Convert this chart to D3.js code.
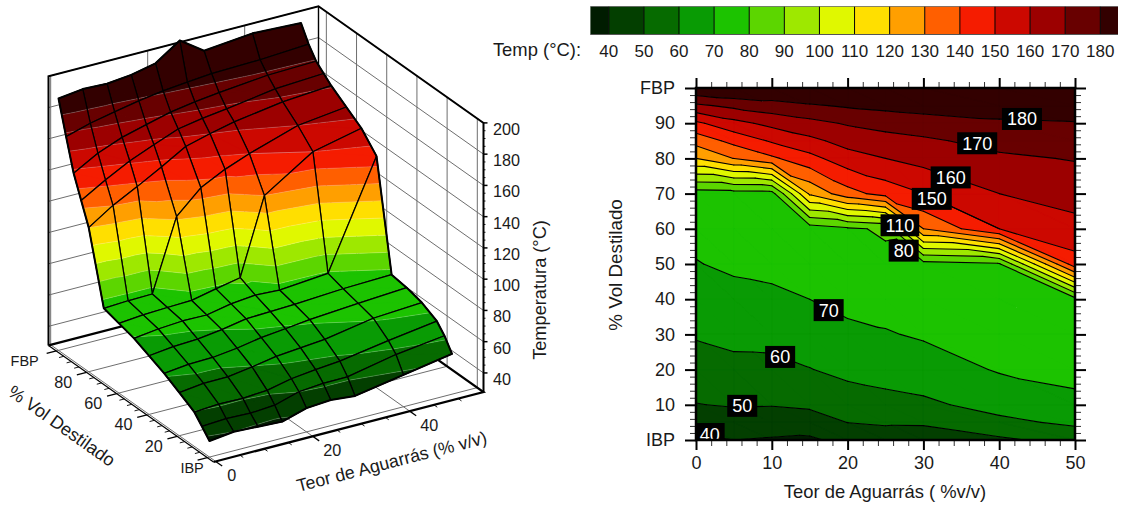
<!DOCTYPE html>
<html><head><meta charset="utf-8">
<script src="https://cdn.jsdelivr.net/npm/d3@7"></script>
<style>
html,body{margin:0;padding:0;background:#fff}
text{font-family:"Liberation Sans",Arial,sans-serif;fill:#1a1a1a}
</style></head><body><svg id="c" width="1125" height="506"></svg>
<script>
// ---- data: temperature (°C) for each Teor de Aguarrás column, one value per % vol row ----
const teorValues = [0, 5, 10, 15, 20, 25, 30, 40, 50];
const volValues  = [0, 5, 10, 20, 30, 40, 50, 60, 70, 80, 85, 90, 95, 100];
const teor0  = [38.1, 44.0, 49.7, 55.4, 60.9, 65.3, 69.6, 72.4, 75.2, 120.0, 133.9, 148.0, 168.0, 189.0];
const teor5  = [40.0, 44.9, 50.8, 57.3, 62.6, 67.1, 71.6, 73.8, 76.0, 130.2, 143.1, 156.8, 172.5, 191.0];
const teor10 = [39.2, 44.4, 50.5, 57.4, 63.0, 67.9, 72.7, 74.5, 76.3, 138.2, 151.2, 162.9, 175.8, 190.4];
const teor15 = [38.4, 45.5, 51.6, 59.7, 64.9, 70.0, 72.5, 75.0, 121.8, 146.7, 157.5, 167.0, 178.8, 192.0];
const teor20 = [43.0, 50.1, 55.0, 62.5, 67.7, 72.8, 75.6, 78.4, 136.2, 155.8, 163.6, 171.0, 181.2, 195.4];
const teor25 = [44.2, 51.4, 56.8, 63.9, 69.3, 73.5, 77.2, 81.5, 144.0, 160.0, 166.4, 173.5, 182.8, 206.0];
const teor30 = [42.8, 51.6, 58.2, 65.3, 71.1, 74.0, 76.4, 130.0, 150.0, 163.5, 168.4, 175.4, 184.2, 195.4];
const teor40 = [48.2, 57.8, 63.3, 70.8, 73.5, 76.0, 79.0, 150.0, 160.0, 168.3, 173.2, 178.5, 185.0, 198.5];
const teor50 = [53.6, 61.8, 67.7, 72.8, 75.5, 77.0, 146.0, 157.0, 163.8, 170.6, 175.0, 179.4, 187.0, 197.0];
const tempColumns = [teor0, teor5, teor10, teor15, teor20, teor25, teor30, teor40, teor50];

const levels = [40,50,60,70,80,90,100,110,120,130,140,150,160,170,180];
const bandColors = ["#001c00","#033f00","#066b00","#099b04","#1cc300","#5cd600","#9ee800","#e0f800","#ffdf00",
  "#ff9f00","#ff5f00","#f51c00","#cc0800","#9c0000","#680000","#330000"];
const contourLabels = [180,170,160,150,110,80,70,60,50,40];
const labelTeor = [43,37.1,33.6,31.1,26.9,27.4,17.5,11.1,6.1,1.8];
const labelVol  = [91.2,84.3,74.6,68.5,61,53.8,36.9,23.6,9.7,1.7];

const volTickFmt = v => v===0 ? "IBP" : v===100 ? "FBP" : String(v);
const svg = d3.select("#c");

// ---- geometry helpers working on the data grid ----
const lowHigh = i => [i===0?-Infinity:levels[i-1], i===levels.length?Infinity:levels[i]];
const mix = (a,b,t)=>({x:a.x+(b.x-a.x)*t,y:a.y+(b.y-a.y)*t,z:a.z+(b.z-a.z)*t});
function clip(poly,level,keepAbove){
  const out=[];
  poly.forEach((p,i)=>{
    const q=poly[(i+1)%poly.length];
    const pi=keepAbove?p.z>=level:p.z<=level, qi=keepAbove?q.z>=level:q.z<=level;
    if(pi) out.push(p);
    if(pi!==qi) out.push(mix(p,q,(level-p.z)/(q.z-p.z)));
  });
  return out;
}
function vertex(i,j){return {x:teorValues[i],y:volValues[j],z:tempColumns[i][j]};}
function cellTriangles(i,j){
  const a=vertex(i,j),b=vertex(i+1,j),c=vertex(i+1,j+1),d=vertex(i,j+1);
  return [[a,b,d],[b,c,d]];
}
function bandPaths(tris,lineGen){
  return bandColors.map((col,k)=>{
    const [lo,hi]=lowHigh(k);
    let d="";
    tris.forEach(tri=>{
      let p=tri;
      if(isFinite(lo)) p=clip(p,lo,true);
      if(p.length&&isFinite(hi)) p=clip(p,hi,false);
      if(p.length>2) d+=lineGen(p)+"Z";
    });
    return {col,d};
  }).filter(b=>b.d);
}
function segmentsOf(tri){
  const res=[];
  levels.forEach(l=>{
    const pts=[];
    tri.forEach((p,i)=>{
      const q=tri[(i+1)%3];
      if((p.z-l)*(q.z-l)<0) pts.push(mix(p,q,(l-p.z)/(q.z-p.z)));
      else if(p.z===l) pts.push(p);
    });
    if(pts.length>=2) res.push(pts.slice(0,2));
  });
  return res;
}
const cells=[];
for(let j=volValues.length-2;j>=0;j--) for(let i=teorValues.length-2;i>=0;i--) cells.push([i,j]);

// ---- 3D panel: oblique projection through scales ----
const xDomain=[-0.45,55.22], yDomain=[-4.1,105.2], zDomain=[27.8,200];
const sxFromX=d3.scaleLinear().domain(xDomain).range([0,270]);
const syFromX=d3.scaleLinear().domain(xDomain).range([0,-70]);
const sxFromY=d3.scaleLinear().domain(yDomain).range([0,-165]);
const syFromY=d3.scaleLinear().domain(yDomain).range([0,-116.6]);
const syFromZ=d3.scaleLinear().domain(zDomain).range([0,-269.1]);
const ox=213.5, oy=462;
const P=(x,y,z)=>[ox+sxFromX(x)+sxFromY(y), oy+syFromX(x)+syFromY(y)+syFromZ(z)];
const line3=d3.line().x(d=>P(d.x,d.y,d.z)[0]).y(d=>P(d.x,d.y,d.z)[1]);
const pt=(x,y,z)=>({x,y,z});
const [x0,x1]=xDomain,[y0,y1]=yDomain,[z0,z1]=zDomain;

const g3=svg.append("g");
const zGrid=d3.range(40,201,20), xGrid=[0,20,40], yGrid=[0,20,40,60,80,100];
const gridG=g3.append("g").attr("fill","none").attr("stroke","#6e6e6e").attr("stroke-width",1);
zGrid.forEach(z=>gridG.append("path").attr("d",line3([pt(x0,y1,z),pt(x1,y1,z),pt(x1,y0,z)])));
xGrid.forEach(x=>gridG.append("path").attr("d",line3([pt(x,y0,z0),pt(x,y1,z0),pt(x,y1,z1)])));
yGrid.forEach(y=>gridG.append("path").attr("d",line3([pt(x0,y,z0),pt(x1,y,z0),pt(x1,y,z1)])));
const boxG=g3.append("g").attr("fill","none").attr("stroke","#000").attr("stroke-width",2);
boxG.append("path").attr("d",line3([pt(x0,y1,z0),pt(x0,y1,z1),pt(x1,y1,z1),pt(x1,y0,z1),pt(x1,y0,z0)]));
boxG.append("path").attr("d",line3([pt(x1,y1,z0),pt(x1,y1,z1)])).attr("stroke-width",1.4);
boxG.append("path").attr("d",line3([pt(x0,y1,z0),pt(x1,y1,z0),pt(x1,y0,z0),pt(x0,y0,z0)])).attr("stroke-width",2.2);
boxG.append("path").attr("d",line3([pt(x0,y0,z0),pt(x0,y1,z0)])).attr("stroke-width",1.2);

// axis ticks
const tickG=g3.append("g").attr("stroke","#000").attr("fill","none");
d3.range(0,51,5).forEach(x=>{
  const major=x%20===0, e=major?-4.3:-2.2;
  tickG.append("path").attr("d",line3([pt(x,y0,z0),pt(x,y0+e,z0)])).attr("stroke-width",major?1.3:0.9);
});
d3.range(0,101,5).forEach(y=>{
  const major=y%20===0, e=major?-2:-1;
  tickG.append("path").attr("d",line3([pt(x0,y,z0),pt(x0+e,y,z0)])).attr("stroke-width",major?1.3:0.9);
});
d3.range(40,201,5).forEach(z=>{
  const major=z%20===0;
  const p=P(x1,y0,z);
  tickG.append("line").attr("x1",p[0]).attr("y1",p[1]).attr("x2",p[0]+(major?4:2)).attr("y2",p[1]).attr("stroke-width",major?1.5:0.9);
});
const tickText=g3.append("g").attr("font-size",16.2).attr("text-anchor","middle");
xGrid.forEach(x=>{
  const p=P(x,y0-4.3,z0);
  tickText.append("text").attr("x",p[0]+(x===0?9.5:13)).attr("y",p[1]+15).text(x);
});
yGrid.forEach(y=>{
  const p=P(x0-2,y,z0), dx=y===100?-22:y===0?-5.5:-13.7;
  tickText.append("text").attr("x",p[0]+dx).attr("y",p[1]+13).attr("font-size",(y===0||y===100)?14.5:16.2).text(volTickFmt(y));
});
zGrid.forEach(z=>{
  const p=P(x1,y0,z);
  tickText.append("text").attr("x",p[0]+9.5).attr("y",p[1]+12).attr("text-anchor","start").text(z);
});

// surface, painted far to near
const surf=g3.append("g");
cells.forEach(([i,j])=>{
  const g=surf.append("g");
  const tris=cellTriangles(i,j);
  bandPaths(tris,line3).forEach(b=>g.append("path").attr("d",b.d).attr("fill",b.col).attr("stroke",b.col).attr("stroke-width",0.3));
  tris.forEach(tri=>segmentsOf(tri).forEach(s=>g.append("path").attr("d",line3(s)).attr("fill","none").attr("stroke","#fff").attr("stroke-opacity",0.25).attr("stroke-width",0.8)));
  const outline=[vertex(i,j),vertex(i+1,j),vertex(i+1,j+1),vertex(i,j+1)];
  g.append("path").attr("d",line3(outline)+"Z").attr("fill","none").attr("stroke","#000").attr("stroke-width",1.25).attr("stroke-linejoin","round");
});
// surface border
const nI=teorValues.length-1,nJ=volValues.length-1;
const perimeter=[
  ...teorValues.map((_,i)=>vertex(i,0)),
  ...volValues.map((_,j)=>vertex(nI,j)),
  ...teorValues.map((_,i)=>vertex(nI-i,nJ)),
  ...volValues.map((_,j)=>vertex(0,nJ-j))];
surf.append("path").attr("d",line3(perimeter)+"Z").attr("fill","none").attr("stroke","#000").attr("stroke-width",2).attr("stroke-linejoin","round");

g3.append("text").attr("transform","translate(61,427) rotate(35.3)").attr("text-anchor","middle").attr("dominant-baseline","middle").attr("font-size",18).text("% Vol Destilado");
g3.append("text").attr("transform","translate(392,463) rotate(-14.5)").attr("text-anchor","middle").attr("dominant-baseline","middle").attr("font-size",17.8).text("Teor de Aguarrás (% v/v)");
g3.append("text").attr("transform","translate(541,290) rotate(-90)").attr("text-anchor","middle").attr("dominant-baseline","middle").attr("font-size",18.2).text("Temperatura (°C)");

// ---- colour bar ----
const barScale=d3.scaleLinear().domain([40,180]).range([608.8,1100.3]);
const barTop=6.5, barBottom=34.5;
const barG=svg.append("g");
bandColors.forEach((col,k)=>{
  const [lo,hi]=lowHigh(k);
  const a=isFinite(lo)?barScale(lo):590.4, b=isFinite(hi)?barScale(hi):1118;
  barG.append("rect").attr("x",a).attr("y",barTop).attr("width",b-a).attr("height",barBottom-barTop).attr("fill",col);
});
levels.forEach(l=>barG.append("line").attr("x1",barScale(l)).attr("x2",barScale(l)).attr("y1",barTop).attr("y2",barBottom).attr("stroke","#000").attr("stroke-width",1));
barG.append("line").attr("x1",590.4).attr("x2",1118).attr("y1",barBottom).attr("y2",barBottom).attr("stroke","#555").attr("stroke-width",1);
barG.append("line").attr("x1",590.4).attr("x2",1118).attr("y1",barTop).attr("y2",barTop).attr("stroke","#555").attr("stroke-width",0.7);
levels.forEach(l=>barG.append("text").attr("x",barScale(l)).attr("y",56.5).attr("text-anchor","middle").attr("font-size",17).text(l));
barG.append("text").attr("x",581).attr("y",55.5).attr("text-anchor","end").attr("font-size",18.4).text("Temp (°C):");

// ---- contour map ----
const xs=d3.scaleLinear().domain([0,50]).range([696,1075]);
const ys=d3.scaleLinear().domain([0,100]).range([440,88]);
const line2=d3.line().x(d=>xs(d.x)).y(d=>ys(d.y));
const defs=svg.append("defs");
defs.append("clipPath").attr("id","plot").append("rect").attr("x",xs(0)).attr("y",ys(100)).attr("width",xs(50)-xs(0)).attr("height",ys(0)-ys(100));
const map=svg.append("g").attr("clip-path","url(#plot)");
const allTris=cells.flatMap(([i,j])=>cellTriangles(i,j));
bandPaths(allTris,line2).forEach(b=>map.append("path").attr("d",b.d).attr("fill",b.col).attr("stroke",b.col).attr("stroke-width",0.4));
const lineLayer=map.append("g"), labelLayer=map.append("g");
allTris.forEach(tri=>segmentsOf(tri).forEach(s=>lineLayer.append("path").attr("d",line2(s)).attr("fill","none").attr("stroke","#000").attr("stroke-width",1.1).attr("stroke-linecap","round")));
contourLabels.forEach((t,k)=>{
  const g=labelLayer.append("g").attr("transform",`translate(${xs(labelTeor[k])},${ys(labelVol[k])})`);
  const r=g.append("rect").attr("fill","#000");
  const tx=g.append("text").attr("text-anchor","middle").attr("y",6.5).attr("font-size",18).style("fill","#fff").text(t);
  const w=tx.node().getBBox().width+10;
  r.attr("x",-w/2).attr("y",-11).attr("width",w).attr("height",22);
});

function styleAxis(g){
  g.select(".domain").remove();
  g.selectAll(".tick line").attr("stroke","#000").attr("stroke-width",2);
  g.selectAll("text").attr("font-size",18).style("fill","#1a1a1a").attr("font-family",'"Liberation Sans",Arial,sans-serif');
}
const xMajor=d3.range(0,51,10), xMinor=d3.range(0,51,2).filter(v=>v%10), yMajor=d3.range(0,101,10), yMinor=d3.range(0,101,2).filter(v=>v%10);
const minorAxis=(axisFn,scale,vals,len)=>axisFn(scale).tickValues(vals).tickSize(len).tickFormat("");
const ax=svg.append("g");
[[d3.axisBottom,xs,xMinor,`translate(0,${ys(0)})`],[d3.axisTop,xs,xMinor,`translate(0,${ys(100)})`],
 [d3.axisLeft,ys,yMinor,`translate(${xs(0)},0)`],[d3.axisRight,ys,yMinor,`translate(${xs(50)},0)`]].forEach(([fn,s,v,tr])=>{
  const g=ax.append("g").attr("transform",tr).call(minorAxis(fn,s,v,6));
  g.select(".domain").remove();
  g.selectAll(".tick line").attr("stroke","#333").attr("stroke-width",1);
});
const bot=ax.append("g").attr("transform",`translate(0,${ys(0)})`).call(d3.axisBottom(xs).tickValues(xMajor).tickSize(10).tickPadding(6));
styleAxis(bot);
const top_=ax.append("g").attr("transform",`translate(0,${ys(100)})`).call(d3.axisTop(xs).tickValues(xMajor).tickSize(10).tickFormat(""));
styleAxis(top_);
const lef=ax.append("g").attr("transform",`translate(${xs(0)},0)`).call(d3.axisLeft(ys).tickValues(yMajor).tickSize(11).tickPadding(10).tickFormat(volTickFmt));
styleAxis(lef);
const rig=ax.append("g").attr("transform",`translate(${xs(50)},0)`).call(d3.axisRight(ys).tickValues(yMajor).tickSize(11).tickFormat(""));
styleAxis(rig);
ax.append("rect").attr("x",xs(0)).attr("y",ys(100)).attr("width",xs(50)-xs(0)).attr("height",ys(0)-ys(100)).attr("fill","none").attr("stroke","#000").attr("stroke-width",2.5);
ax.append("text").attr("x",885).attr("y",498).attr("text-anchor","middle").attr("font-size",18.4).text("Teor de Aguarrás ( %v/v)");
ax.append("text").attr("transform","translate(617,265) rotate(-90)").attr("text-anchor","middle").attr("dominant-baseline","middle").attr("font-size",18.8).text("% Vol Destilado");
</script></body></html>
